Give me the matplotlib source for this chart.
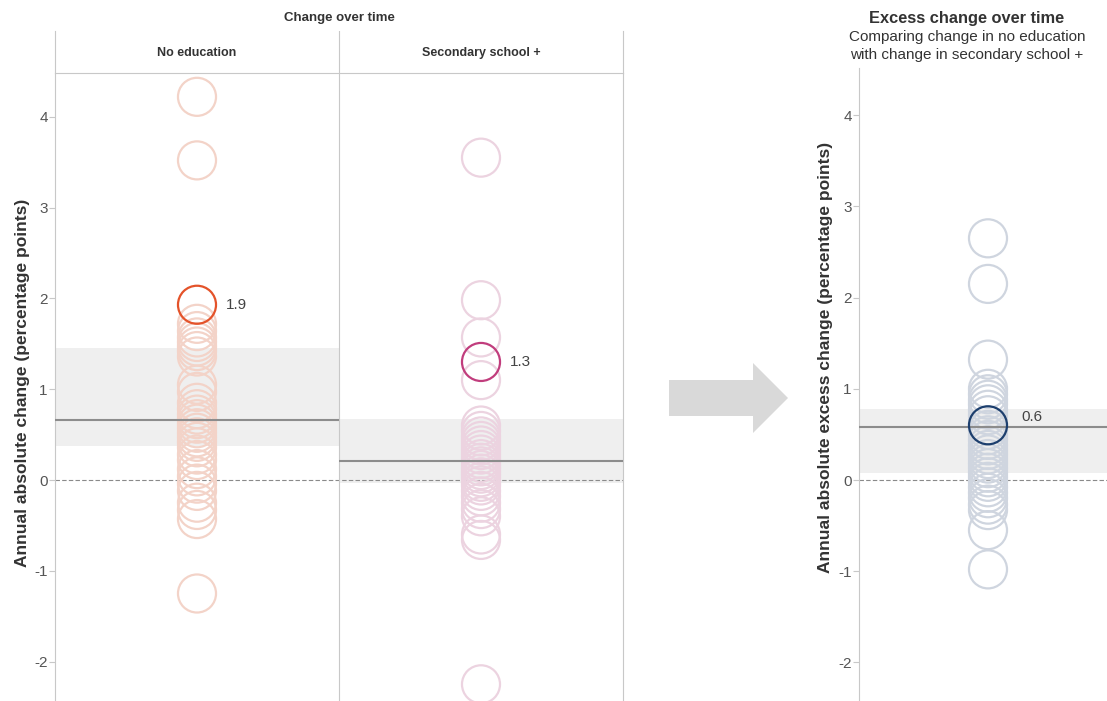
import matplotlib
matplotlib.use("Agg")
import matplotlib.pyplot as plt
from matplotlib.patches import FancyArrow

plt.rcParams['font.family'] = ['Liberation Sans', 'DejaVu Sans']
plt.rcParams['axes.unicode_minus'] = False

# data
no_edu = [4.22, 3.52, 1.72, 1.64, 1.57, 1.52, 1.47, 1.42, 1.36, 1.05, 0.97,
          0.85, 0.78, 0.72, 0.67, 0.62, 0.57, 0.52, 0.47, 0.42, 0.36, 0.28,
          0.22, 0.12, 0.04, -0.04, -0.12, -0.25, -0.33, -0.43, -1.25]
no_edu_hl = 1.93
secondary = [3.55, 1.98, 1.57, 1.10, 0.60, 0.54, 0.48, 0.43, 0.38, 0.33,
             0.28, 0.23, 0.19, 0.15, 0.11, 0.07, 0.03, -0.02, -0.06, -0.12,
             -0.18, -0.25, -0.32, -0.40, -0.60, -0.66, -2.25]
secondary_hl = 1.30
excess = [2.65, 2.15, 1.32, 1.00, 0.94, 0.88, 0.83, 0.77, 0.71, 0.55, 0.49,
          0.44, 0.38, 0.33, 0.28, 0.23, 0.18, 0.13, 0.08, 0.03, -0.02,
          -0.08, -0.14, -0.20, -0.27, -0.33, -0.55, -0.98]
excess_hl = 0.60

# mean lines and shaded bands (low, high)
no_edu_mean, no_edu_band = 0.66, (0.37, 1.45)
sec_mean, sec_band = 0.21, (-0.03, 0.67)
exc_mean, exc_band = 0.58, (0.08, 0.78)

W, H = 1107, 701
fig = plt.figure(figsize=(W / 100, H / 100), dpi=100)

def box(x0, y0, x1, y1):
    # pixel box (from top-left) -> figure fraction rect
    return [x0 / W, 1 - y1 / H, (x1 - x0) / W, (y1 - y0) / H]

grey = '#c8c8c8'
ms = 750
lw = 1.6

# ---- left part: two panels sharing one axis ----
ax = fig.add_axes(box(55, 73, 623, 701))
ax.set_xlim(-0.5, 1.5)
ax.set_ylim((480 - 701) / 90.8, (480 - 73) / 90.8)
ax.axhspan(*no_edu_band, xmin=0, xmax=0.5, color='#efefef', lw=0, zorder=0)
ax.axhspan(*sec_band, xmin=0.5, xmax=1, color='#efefef', lw=0, zorder=0)
ax.axhline(0, color='#8a8a8a', lw=0.8, ls=(0, (4, 2)), zorder=1)
ax.scatter([0] * len(no_edu), no_edu, s=ms, facecolors='none',
           edgecolors='#f3d3c8', linewidths=lw, zorder=2)
ax.scatter([1] * len(secondary), secondary, s=ms, facecolors='none',
           edgecolors='#ecd3e0', linewidths=lw, zorder=2)
ax.hlines(no_edu_mean, -0.5, 0.5, color='#8c8c8c', lw=1.5, zorder=3)
ax.hlines(sec_mean, 0.5, 1.5, color='#8c8c8c', lw=1.5, zorder=3)
ax.scatter([0], [no_edu_hl], s=ms, facecolors='none', edgecolors='#e4532a',
           linewidths=lw, zorder=4)
ax.scatter([1], [secondary_hl], s=ms, facecolors='none', edgecolors='#c13d7d',
           linewidths=lw, zorder=4)
ax.annotate(f'{no_edu_hl:.1f}', (0, no_edu_hl), xytext=(21, 0),
            textcoords='offset points', va='center', fontsize=11, color='#444')
ax.annotate(f'{secondary_hl:.1f}', (1, secondary_hl), xytext=(21, 0),
            textcoords='offset points', va='center', fontsize=11, color='#444')
ax.axvline(0.5, color=grey, lw=0.8)
ax.set_xticks([])
ax.set_yticks([-2, -1, 0, 1, 2, 3, 4])
ax.tick_params(axis='y', colors=grey, labelcolor='#555', labelsize=11,
               length=4.3, width=0.8, pad=1)
for s in ['top', 'bottom']:
    ax.spines[s].set_visible(False)
for s in ['left', 'right']:
    ax.spines[s].set_color(grey)
    ax.spines[s].set_linewidth(0.8)
ax.set_ylabel('Annual absolute change (percentage points)', fontsize=12.5,
              fontweight='bold', color='#333')
ax.yaxis.set_label_coords(-0.044, 0.506)

# header row
hx = fig.add_axes(box(55, 31, 623, 73))
hx.set_xlim(-0.5, 1.5)
hx.set_ylim(0, 1)
hx.set_xticks([])
hx.set_yticks([])
hx.spines['top'].set_visible(False)
for s in ['left', 'right', 'bottom']:
    hx.spines[s].set_color(grey)
    hx.spines[s].set_linewidth(0.8)
hx.axvline(0.5, color=grey, lw=0.8)
hx.text(0, 0.47, 'No education', ha='center', va='center', fontsize=9,
        fontweight='bold', color='#333')
hx.text(1, 0.47, 'Secondary school +', ha='center', va='center', fontsize=9,
        fontweight='bold', color='#333')
fig.text(339 / W, 1 - 17.5 / H, 'Change over time', ha='center', va='center',
         fontsize=9.5, fontweight='bold', color='#333')

# ---- arrow ----
fig.patches.append(FancyArrow(669 / W, 1 - 398 / H, 119 / W, 0, width=36 / H,
                              head_width=70 / H, head_length=35 / W,
                              length_includes_head=True, color='#d9d9d9',
                              lw=0, transform=fig.transFigure, figure=fig))

# ---- right panel ----
rx = fig.add_axes(box(859, 68, 1107, 701))
rx.set_xlim(-1.29, 1.19)
rx.set_ylim((480 - 701) / 91.2, (480 - 68) / 91.2)
rx.axhspan(*exc_band, color='#efefef', lw=0, zorder=0)
rx.axhline(0, color='#8a8a8a', lw=0.8, ls=(0, (4, 2)), zorder=1)
rx.scatter([0] * len(excess), excess, s=ms, facecolors='none',
           edgecolors='#cfd5df', linewidths=lw, zorder=2)
rx.axhline(exc_mean, color='#8c8c8c', lw=1.5, zorder=3)
rx.scatter([0], [excess_hl], s=ms, facecolors='none', edgecolors='#1d3f6e',
           linewidths=lw, zorder=4)
rx.annotate(f'{excess_hl:.1f}', (0, excess_hl), xytext=(24, 1),
            textcoords='offset points', va='bottom', fontsize=11, color='#444')
rx.set_xticks([])
rx.set_yticks([-2, -1, 0, 1, 2, 3, 4])
rx.tick_params(axis='y', colors=grey, labelcolor='#555', labelsize=11,
               length=4.3, width=0.8, pad=1)
for s in ['top', 'bottom', 'right']:
    rx.spines[s].set_visible(False)
rx.spines['left'].set_color(grey)
rx.spines['left'].set_linewidth(0.8)
rx.set_ylabel('Annual absolute excess change (percentage points)',
              fontsize=12.5, fontweight='bold', color='#333')
rx.yaxis.set_label_coords(-0.105, 0.542)

fig.text(967 / W, 1 - 19 / H, 'Excess change over time', ha='center',
         va='center', fontsize=11.8, fontweight='bold', color='#333')
fig.text(967 / W, 1 - 37 / H, 'Comparing change in no education',
         ha='center', va='center', fontsize=11, color='#333')
fig.text(967 / W, 1 - 55 / H, 'with change in secondary school +',
         ha='center', va='center', fontsize=11, color='#333')

fig.savefig('out.png', dpi=100)
